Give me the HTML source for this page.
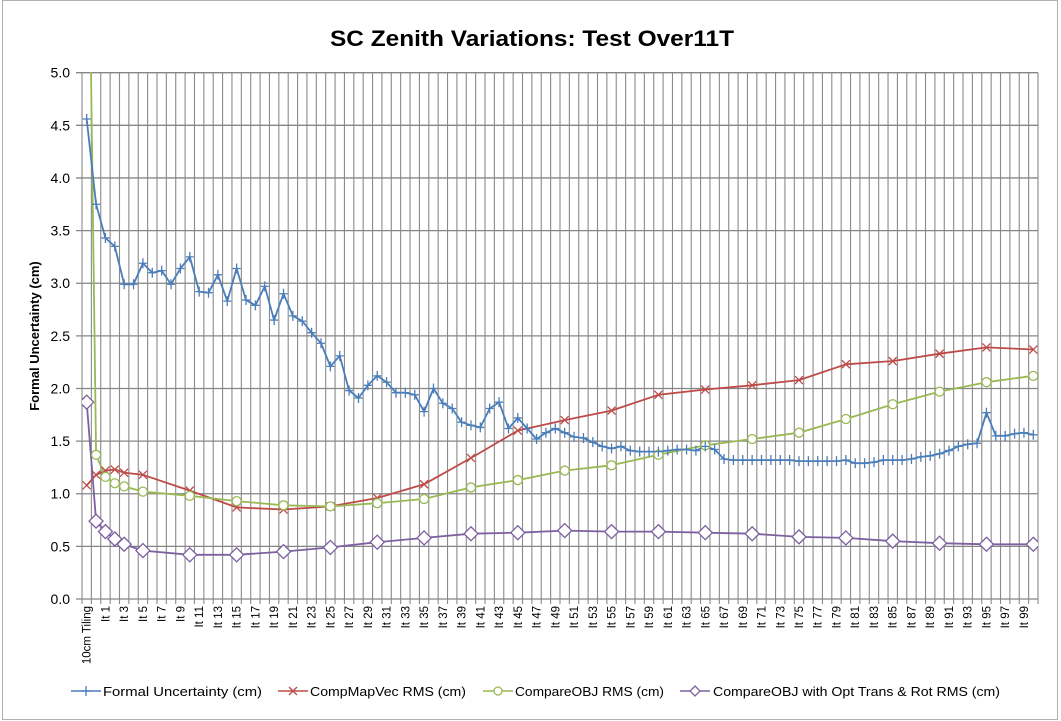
<!DOCTYPE html>
<html><head><meta charset="utf-8"><style>
html,body{margin:0;padding:0;background:#fff;}
svg{display:block;font-family:"Liberation Sans",sans-serif;}
</style></head><body>
<svg id="c" width="1061" height="721" viewBox="0 0 1061 721" xmlns="http://www.w3.org/2000/svg">
<rect x="2.5" y="0.5" width="1055" height="719" fill="#fff" stroke="#b0b0b0"/>
<text x="532" y="46" text-anchor="middle" font-size="22" font-weight="bold" fill="#000" textLength="404" lengthAdjust="spacingAndGlyphs">SC Zenith Variations: Test Over11T</text>
<text transform="translate(39,336) rotate(-90)" text-anchor="middle" font-size="13" font-weight="bold">Formal Uncertainty (cm)</text>
<defs><clipPath id="pc"><rect x="82" y="72" width="956" height="528"/></clipPath></defs>
<g id="grid"></g>
<g id="series" clip-path="url(#pc)"></g>
<g id="labels"></g>
<g id="legend" font-size="13" fill="#000">
<line x1="71" y1="691" x2="101" y2="691" stroke="#4a7ebb" stroke-width="1.5"/><path d="M86 686v10M81 691h10" stroke="#4a7ebb" stroke-width="1.3"/>
<text x="103" y="696" textLength="159" lengthAdjust="spacingAndGlyphs">Formal Uncertainty (cm)</text>
<line x1="278" y1="691" x2="308" y2="691" stroke="#be4b48" stroke-width="1.5"/><path d="M289 687l8 8M297 687l-8 8" stroke="#be4b48" stroke-width="1.3"/>
<text x="310" y="696" textLength="156" lengthAdjust="spacingAndGlyphs">CompMapVec RMS (cm)</text>
<line x1="483" y1="691" x2="513" y2="691" stroke="#98b954" stroke-width="1.5"/><circle cx="498" cy="691" r="4" fill="#fff" stroke="#98b954" stroke-width="1.3"/>
<text x="515" y="696" textLength="149" lengthAdjust="spacingAndGlyphs">CompareOBJ RMS (cm)</text>
<line x1="680" y1="691" x2="710" y2="691" stroke="#7d60a0" stroke-width="1.5"/><path d="M695 686l5 5l-5 5l-5 -5z" fill="#fff" stroke="#7d60a0" stroke-width="1.3"/>
<text x="713" y="696" textLength="287" lengthAdjust="spacingAndGlyphs">CompareOBJ with Opt Trans &amp; Rot RMS (cm)</text>
</g>
</svg>
<script>
var L=82,R=1038,T=72.7,B=599,N=102,W=(R-L)/N;
function X(i){return L+(i+0.5)*W;}
function Y(v){return B-v*(B-T)/5;}
var g='';
for(var i=0;i<=N;i++){var x=L+i*W;g+='<line x1="'+x+'" y1="'+T+'" x2="'+x+'" y2="'+(B+5)+'" stroke="#8a8a8a" stroke-width="1.1"/>';}
for(var k=0;k<=10;k++){var y=Y(k*0.5);g+='<line x1="76" y1="'+y+'" x2="'+R+'" y2="'+y+'" stroke="#858585" stroke-width="1.3"/>';
g+='<text x="70" y="'+(y+5)+'" text-anchor="end" font-size="14">'+(k*0.5).toFixed(1)+'</text>';}
document.getElementById('grid').innerHTML=g;
var lb='';
for(var i=0;i<N;i+=2){var t=i==0?'10cm Tiling':'It '+(i-1);
lb+='<text transform="translate('+(X(i)+4)+',606) rotate(-90)" text-anchor="end" font-size="11.5">'+t+'</text>';}
document.getElementById('labels').innerHTML=lb;
var blue=[4.56,3.75,3.43,3.35,2.99,2.99,3.19,3.10,3.12,2.99,3.14,3.25,2.92,2.91,3.08,2.83,3.14,2.84,2.79,2.97,2.65,2.90,2.69,2.64,2.53,2.43,2.21,2.31,1.98,1.91,2.03,2.12,2.06,1.96,1.96,1.94,1.78,2.00,1.86,1.81,1.68,1.65,1.63,1.81,1.87,1.62,1.72,1.62,1.52,1.58,1.62,1.58,1.54,1.53,1.49,1.45,1.43,1.45,1.41,1.40,1.40,1.40,1.41,1.42,1.42,1.41,1.45,1.42,1.33,1.32,1.32,1.32,1.32,1.32,1.32,1.32,1.31,1.31,1.31,1.31,1.31,1.32,1.29,1.29,1.30,1.32,1.32,1.32,1.33,1.35,1.36,1.38,1.41,1.45,1.47,1.48,1.77,1.55,1.55,1.57,1.58,1.56];
var sc=[0,1,2,3,4,6,11,16,21,26,31,36,41,46,51,56,61,66,71,76,81,86,91,96,101];
var red=[1.08,1.18,1.22,1.23,1.20,1.18,1.03,0.87,0.85,0.88,0.96,1.09,1.34,1.60,1.70,1.79,1.94,1.99,2.03,2.08,2.23,2.26,2.33,2.39,2.37];
var green=[8.1,1.37,1.16,1.10,1.07,1.02,0.98,0.93,0.89,0.88,0.91,0.95,1.06,1.13,1.22,1.27,1.37,1.46,1.52,1.58,1.71,1.85,1.97,2.06,2.12];
var purp=[1.87,0.74,0.64,0.57,0.52,0.46,0.42,0.42,0.45,0.49,0.54,0.58,0.62,0.63,0.65,0.64,0.64,0.63,0.62,0.59,0.58,0.55,0.53,0.52,0.52];
var s='';
function line(xs,vs,c){var p='';for(var i=0;i<vs.length;i++)p+=(i?'L':'M')+X(xs[i]).toFixed(1)+' '+Y(vs[i]).toFixed(1);return '<path d="'+p+'" fill="none" stroke="'+c+'" stroke-width="1.8" stroke-linejoin="round"/>';}
var bi=[];for(var i=0;i<N;i++)bi.push(i);
s+=line(sc,red,'#be4b48');
s+=line(sc,green,'#98b954');
s+=line(sc,purp,'#7d60a0');
s+=line(bi,blue,'#4a7ebb');
for(var i=0;i<sc.length;i++){var x=X(sc[i]),y=Y(red[i]);s+='<path d="M'+(x-4)+' '+(y-4)+'l8 8M'+(x+4)+' '+(y-4)+'l-8 8" stroke="#be4b48" stroke-width="1.3"/>';}
for(var i=0;i<sc.length;i++){var x=X(sc[i]),y=Y(green[i]);s+='<circle cx="'+x+'" cy="'+y+'" r="4.5" fill="#fff" stroke="#98b954" stroke-width="1.3"/>';}
for(var i=0;i<sc.length;i++){var x=X(sc[i]),y=Y(purp[i]);s+='<path d="M'+x+' '+(y-7)+'l7 7l-7 7l-7 -7z" fill="#fff" stroke="#7d60a0" stroke-width="1.3"/>';}
for(var i=0;i<N;i++){var x=X(i),y=Y(blue[i]);s+='<path d="M'+x+' '+(y-5)+'v10M'+(x-4)+' '+y+'h8" stroke="#4a7ebb" stroke-width="1.3"/>';}
document.getElementById('series').innerHTML=s;
</script>
</body></html>
